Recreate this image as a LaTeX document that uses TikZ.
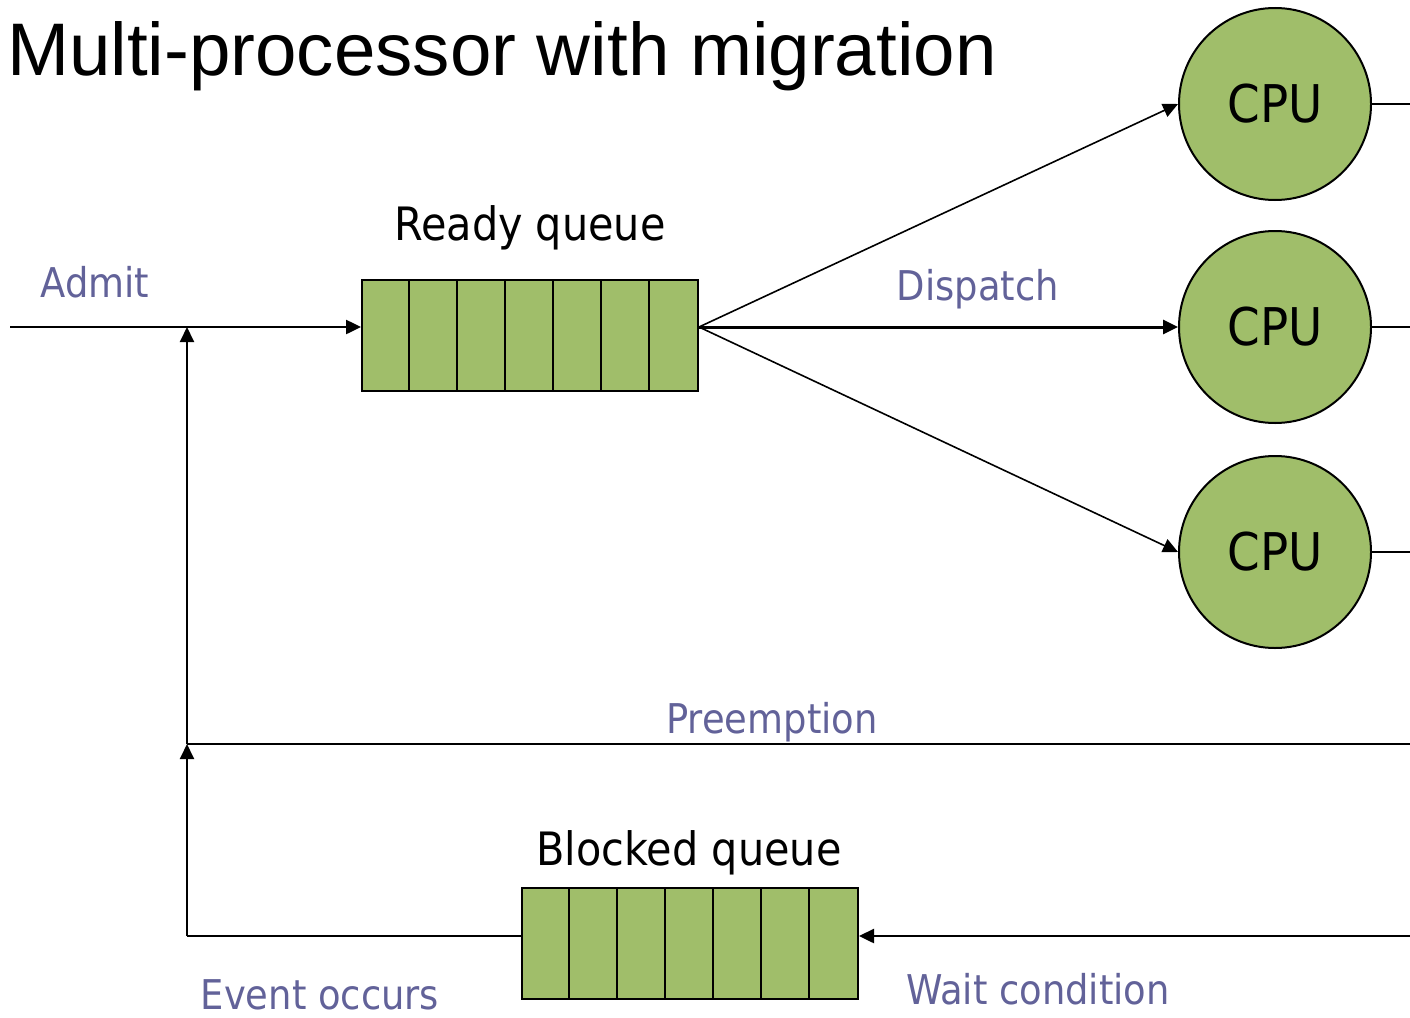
\documentclass[tikz,border=0pt]{standalone}
\usepackage{fontspec}
\setmainfont{Liberation Sans}
\newfontfamily\lab[FakeStretch=0.9]{DejaVu Sans}
\usetikzlibrary{arrows.meta}
\definecolor{qgreen}{RGB}{160,190,106}
\definecolor{lblue}{RGB}{98,98,153}
\tikzset{
  line/.style={line width=2pt},
  arr/.style={line width=2pt,-{Triangle[length=15pt,width=14pt]}},
  queue/.style={draw,line width=2pt,fill=qgreen,rectangle,minimum width=336pt,minimum height=111pt,inner sep=0pt},
  cpu/.style={draw,line width=2pt,fill=qgreen,circle,minimum size=192pt,inner sep=0pt,font=\lab\fontsize{52}{60}\selectfont},
  blk/.style={anchor=base,font=\lab\fontsize{46}{54}\selectfont,inner sep=0pt},
  blu/.style={anchor=base,text=lblue,font=\lab\fontsize{41}{50}\selectfont,inner sep=0pt},
}
\begin{document}
\begin{tikzpicture}[x=1pt,y=-1pt]
\useasboundingbox (0,0) rectangle (1410,1017);
\node[anchor=base west,inner sep=0pt,font=\fontsize{74.5}{80}\selectfont] (title) at (7,75) {Multi-processor with migration};
% ready queue
\node[queue] (rq) at (530,335.5) {};
\foreach \i in {1,...,6}{\draw[line] ([xshift=\i*48pt]rq.north west) -- ([xshift=\i*48pt]rq.south west);}
\node[blk] (rql) at (530,240) {Ready queue};
% blocked queue
\node[queue] (bq) at (690,943.5) {};
\foreach \i in {1,...,6}{\draw[line] ([xshift=\i*48pt]bq.north west) -- ([xshift=\i*48pt]bq.south west);}
\node[blk] (bql) at (689,865) {Blocked queue};
% CPUs
\node[cpu] (c1) at (1275,104) {CPU};
\node[cpu] (c2) at (1275,327) {CPU};
\node[cpu] (c3) at (1275,552) {CPU};
\coordinate (r1) at (1410,104);
\coordinate (r2) at (1410,327);
\coordinate (r3) at (1410,552);
\draw[line] (c1.east) -- (r1);
\draw[line] (c2.east) -- (r2);
\draw[line] (c3.east) -- (r3);
% admit
\coordinate (a0) at (10,327);
\coordinate (aj) at (187,327);
\coordinate (rqin) at (rq.west |- a0);
\coordinate (ds) at (rq.east |- a0);
\draw[arr,line width=2.5pt] (a0) -- (rqin);
\node[blu] (al) at (95,297) {Admit};
% dispatch
\draw[arr,line width=1.6pt] (ds) -- (c1.west);
\draw[arr,line width=3pt] (ds) -- (c2.west);
\draw[arr,line width=1.6pt] (ds) -- (c3.west);
\node[blu] (dl) at (978,300) {Dispatch};
% preemption
\coordinate (pr) at (1410,744);
\coordinate (pj) at (187,744);
\draw[line] (pr) -- (pj);
\node[blu] (pl) at (772,733) {Preemption};
% blocked path
\coordinate (wr) at (1410,936);
\coordinate (ev) at (187,936);
\coordinate (bqin) at (bq.east |- wr);
\coordinate (bqout) at (bq.west |- wr);
\draw[arr,line width=2.5pt] (wr) -- (bqin);
\draw[line] (bqout) -- (ev);
\draw[arr] (ev) -- (pj);
\draw[arr] (pj) -- (aj);
\node[blu] (el) at (320,1009) {Event occurs};
\node[blu] (wl) at (1038,1004) {Wait condition};
\end{tikzpicture}
\end{document}
